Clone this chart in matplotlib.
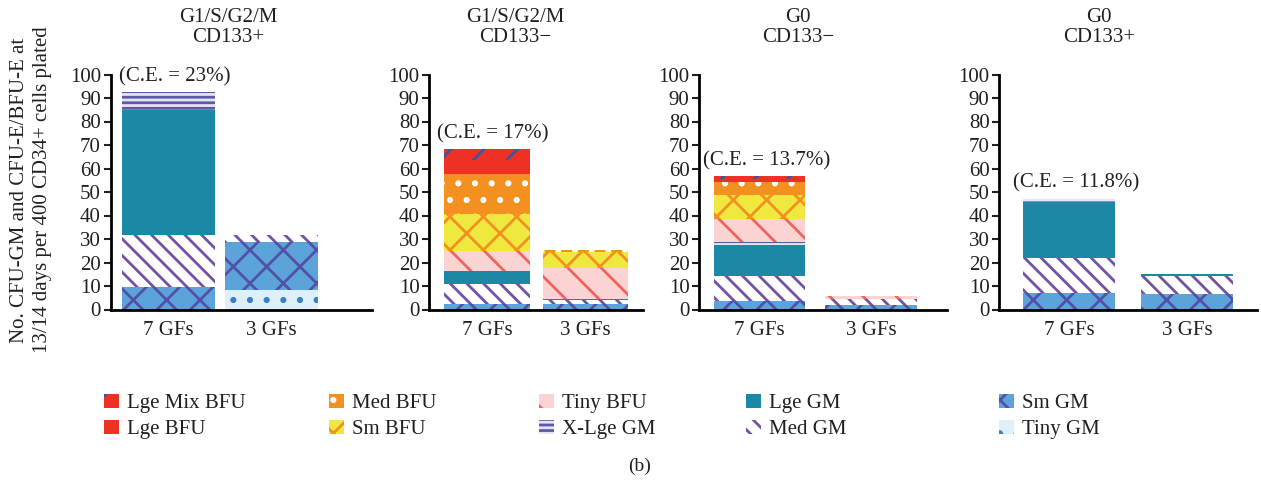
import matplotlib
matplotlib.use("Agg")
import matplotlib.pyplot as plt
from matplotlib.patches import Patch

plt.rcParams['font.family'] = ['Liberation Serif', 'DejaVu Serif']
plt.rcParams['hatch.linewidth'] = 2.0

TEXT = '#231f20'
FS = 15

# colony types, bottom of the stack first
colony_types = ['Tiny GM', 'Sm GM', 'Med GM', 'Lge GM', 'X-Lge GM',
                'Tiny BFU', 'Sm BFU', 'Med BFU', 'Lge BFU', 'Lge Mix BFU']
conditions = ['7 GFs', '3 GFs']

panel_titles = ['G1/S/G2/M\nCD133+', 'G1/S/G2/M\nCD133\u2212',
                'G0\nCD133\u2212', 'G0\nCD133+']
cloning_eff = ['(C.E. = 23%)', '(C.E. = 17%)', '(C.E. = 13.7%)', '(C.E. = 11.8%)']

# colonies per 400 cells, one list per colony type: [7 GFs, 3 GFs]
g1_pos = {
    'Tiny GM': [0.0, 8.3], 'Sm GM': [9.5, 20.4], 'Med GM': [22.3, 3.0],
    'Lge GM': [53.1, 0.0], 'X-Lge GM': [7.5, 0.0], 'Tiny BFU': [0.0, 0.0],
    'Sm BFU': [0.0, 0.0], 'Med BFU': [0.0, 0.0], 'Lge BFU': [0.0, 0.0],
    'Lge Mix BFU': [0.0, 0.0],
}
g1_neg = {
    'Tiny GM': [0.0, 0.0], 'Sm GM': [2.4, 2.4], 'Med GM': [8.4, 1.6],
    'Lge GM': [5.6, 0.5], 'X-Lge GM': [0.0, 0.0], 'Tiny BFU': [8.6, 13.3],
    'Sm BFU': [15.8, 6.7], 'Med BFU': [16.7, 0.9], 'Lge BFU': [6.0, 0.0],
    'Lge Mix BFU': [4.7, 0.0],
}
g0_neg = {
    'Tiny GM': [0.0, 0.0], 'Sm GM': [3.5, 2.1], 'Med GM': [10.6, 2.4],
    'Lge GM': [13.4, 0.0], 'X-Lge GM': [1.4, 0.0], 'Tiny BFU': [9.6, 1.1],
    'Sm BFU': [10.1, 0.0], 'Med BFU': [5.6, 0.0], 'Lge BFU': [1.2, 0.0],
    'Lge Mix BFU': [1.2, 0.0],
}
g0_pos = {
    'Tiny GM': [0.0, 0.0], 'Sm GM': [7.0, 6.6], 'Med GM': [15.0, 7.8],
    'Lge GM': [23.8, 0.8], 'X-Lge GM': [1.4, 0.0], 'Tiny BFU': [0.0, 0.0],
    'Sm BFU': [0.0, 0.0], 'Med BFU': [0.0, 0.0], 'Lge BFU': [0.0, 0.0],
    'Lge Mix BFU': [0.0, 0.0],
}
panels = [g1_pos, g1_neg, g0_neg, g0_pos]

# fill colour, hatch colour, hatch
styles = {
    'Tiny GM': ('#ddeff9', '#3a80c4', '.'),
    'Sm GM': ('#5ba3d9', '#5350a8', 'x'),
    'Med GM': ('white', '#7252a8', '\\\\'),
    'Lge GM': ('#1b88a6', 'none', None),
    'X-Lge GM': ('#e4e4f2', '#5c5aa8', '---'),
    'Tiny BFU': ('#fcd3d3', '#ef645e', '\\'),
    'Sm BFU': ('#efe83e', '#f39020', 'x'),
    'Med BFU': ('#f39020', 'white', '.'),
    'Lge BFU': ('#ee3124', 'none', None),
    'Lge Mix BFU': ('#ee3124', '#3a55a5', '/'),
}

W, H = 1261, 480
# axes boxes in pixels: left, right; x limits and bar width in category units
ax_px = [(110.7, 371.7), (429.3, 643.0), (699.3, 946.7), (999.3, 1256.7)]
ax_xlim = [(-0.56, 1.974), (-0.586, 1.584), (-0.538, 1.675), (-0.59, 1.588)]
bar_width = [0.91, 0.87, 0.82, 0.78]
title_x = [228, 515, 798, 1099]
AX_TOP, AX_BOTTOM = 74.5, 309.5


def draw_panel(ax, data, xlim, width):
    """
    Draws one stacked bar panel and returns the bar totals.
    """
    xs = list(range(len(conditions)))
    bottom = [0.0] * len(conditions)
    for name in colony_types:
        face, edge, hatch = styles[name]
        ax.bar(xs, data[name], width=width, bottom=bottom, color=face,
               edgecolor=edge, hatch=hatch, linewidth=0)
        bottom = [b + v for b, v in zip(bottom, data[name])]

    ax.set_xlim(*xlim)
    ax.set_ylim(0, 100)
    ax.set_yticks(range(0, 101, 10))
    ax.set_xticks(xs)
    ax.set_xticklabels(conditions)
    ax.spines['top'].set_visible(False)
    ax.spines['right'].set_visible(False)
    ax.spines['left'].set_linewidth(2)
    ax.spines['bottom'].set_linewidth(2)
    ax.tick_params(axis='y', length=5, width=1.5, labelsize=FS, colors=TEXT, pad=2)
    ax.tick_params(axis='x', length=0, labelsize=FS, colors=TEXT, pad=8)
    return bottom


fig = plt.figure(figsize=(W / 100, H / 100), dpi=100)

for i, data in enumerate(panels):
    left, right = ax_px[i]
    ax = fig.add_axes([left / W, 1 - AX_BOTTOM / H, (right - left) / W,
                       (AX_BOTTOM - AX_TOP) / H])
    totals = draw_panel(ax, data, ax_xlim[i], bar_width[i])
    ax.text(0.06, totals[0] + 6.5, cloning_eff[i], ha='center', va='center',
            fontsize=FS, color=TEXT, clip_on=False)
    fig.text(title_x[i] / W, 1 - 8 / H, panel_titles[i], ha='center', va='top',
             fontsize=FS, color=TEXT, linespacing=1.1)

fig.text(31 / W, 1 - 190 / H,
         'No. CFU-GM and CFU-E/BFU-E at\n13/14 days per 400 CD34+ cells plated',
         rotation=90, ha='center', va='center', fontsize=FS, color=TEXT,
         linespacing=1.3)

# legend: five columns of two entries, top of the stack first
legend_order = colony_types[::-1]
col_x = [104, 329, 539, 746, 999]
for c, x in enumerate(col_x):
    names = legend_order[2 * c:2 * c + 2]
    handles = []
    for name in names:
        face, edge, hatch = styles[name]
        handles.append(Patch(facecolor=face, edgecolor=edge, hatch=hatch,
                             linewidth=0, label=name))
    leg = fig.legend(handles=handles, loc='center left',
                     bbox_to_anchor=(x / W, 1 - 416.5 / H), frameon=False,
                     fontsize=FS, handlelength=0.7, handleheight=0.7,
                     handletextpad=0.4, labelspacing=0.3, borderpad=0,
                     borderaxespad=0)
    for t in leg.get_texts():
        t.set_color(TEXT)

fig.text(640 / W, 1 - 466 / H, '(b)', ha='center', va='center',
         fontsize=14, color=TEXT)

fig.savefig('out.png', dpi=100)
